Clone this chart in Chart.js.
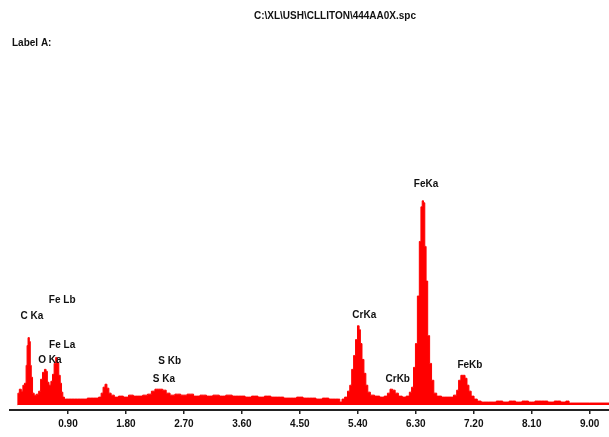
<!DOCTYPE html>
<html>
<head>
<meta charset="utf-8">
<script src="https://cdn.jsdelivr.net/npm/chart.js@4.4.1/dist/chart.umd.min.js"></script>
<style>
  html, body { margin: 0; padding: 0; background: #fff; }
  #wrap { width: 609px; height: 437px; }
</style>
</head>
<body>
<div id="wrap"><canvas id="spec"></canvas></div>
<script>
// spectrum: energy (keV) and counts (arbitrary units)
const energies = [
  0.12, 0.125, 0.13, 0.16, 0.19, 0.21, 0.24, 0.26, 0.27, 0.29, 0.31, 0.32, 0.34, 0.36, 0.39,
  0.43, 0.46, 0.49, 0.52, 0.55, 0.57, 0.59, 0.62, 0.65, 0.67, 0.70, 0.72, 0.745, 0.77,
  0.79, 0.81, 0.83, 0.86, 0.95, 1.05, 1.15, 1.25, 1.35, 1.40, 1.43, 1.46, 1.49, 1.52,
  1.55, 1.59, 1.65, 1.72, 1.80, 1.88, 1.95, 2.02, 2.10, 2.17, 2.22, 2.28, 2.34, 2.40,
  2.45, 2.52, 2.60, 2.70, 2.80, 2.90, 3.00, 3.10, 3.20, 3.30, 3.40, 3.50, 3.60, 3.70,
  3.80, 3.90, 4.00, 4.10, 4.20, 4.30, 4.40, 4.50, 4.60, 4.70, 4.80, 4.90, 5.00, 5.10,
  5.14, 5.17, 5.22, 5.26, 5.29, 5.32, 5.35, 5.38, 5.41, 5.43, 5.45, 5.48, 5.51, 5.54,
  5.57, 5.62, 5.70, 5.78, 5.84, 5.88, 5.92, 5.96, 6.00, 6.06, 6.12, 6.18, 6.22, 6.25,
  6.28, 6.31, 6.34, 6.37, 6.39, 6.41, 6.43, 6.45, 6.47, 6.50, 6.53, 6.56, 6.60, 6.65,
  6.75, 6.85, 6.92, 6.95, 6.98, 7.02, 7.05, 7.08, 7.11, 7.14, 7.18, 7.23, 7.28, 7.35,
  7.50, 7.60, 7.70, 7.80, 7.90, 8.00, 8.10, 8.20, 8.30, 8.40, 8.50, 8.60, 8.66, 8.70,
  9.30
];
const counts = [
  0, 12, 12, 16, 14, 20, 22, 40, 60, 68, 64, 40, 28, 12, 10,
  11, 14, 26, 33, 36, 34, 23, 20, 24, 31, 42, 48, 43, 30,
  22, 13, 8, 6, 6, 6, 6, 7, 7, 8, 12, 18, 21, 17,
  12, 10, 8, 9, 8, 10, 9, 9, 10, 11, 14, 16, 16, 15,
  12, 10, 11, 10, 11, 9, 10, 9, 10, 9, 10, 9, 9, 8,
  9, 8, 9, 8, 8, 7, 7, 8, 7, 7, 6, 7, 6, 6,
  3, 6, 8, 14, 20, 36, 50, 66, 80, 76, 62, 46, 32, 20,
  13, 10, 9, 8, 9, 12, 16, 15, 12, 9, 8, 9, 13, 18,
  38, 62, 110, 165, 200, 206, 204, 160, 125, 70, 42, 25, 12, 9,
  8, 8, 10, 15, 25, 30, 30, 27, 20, 14, 9, 6, 4, 3,
  3, 4, 3, 4, 3, 4, 3, 4, 4, 3, 4, 3, 4, 2,
  2
];

const tickValues = [0.9, 1.8, 2.7, 3.6, 4.5, 5.4, 6.3, 7.2, 8.1, 9.0];

// peak labels and where they sit (keV, counts)
const peakLabels = ['C Ka', 'Fe Lb', 'Fe La', 'O Ka', 'S Kb', 'S Ka', 'CrKa', 'CrKb', 'FeKa', 'FeKb'];
const labelEnergies = [0.34, 0.81, 0.81, 0.62, 2.48, 2.39, 5.50, 6.02, 6.46, 7.14];
const labelCounts = [90, 106, 60, 45, 44, 26, 91, 26, 223, 40];

const titleText = 'C:\\XL\\USH\\CLLITON\\444AA0X.spc';
const subText = 'Label A:';

const points = energies.map((e, i) => ({ x: e, y: counts[i] }));

const textPlugin = {
  id: 'specText',
  afterDraw(chart) {
    const ctx = chart.ctx;
    const xs = chart.scales.x;
    const ys = chart.scales.y;
    ctx.save();
    ctx.fillStyle = '#111';
    ctx.font = 'bold 10px "Liberation Sans", Arial, sans-serif';
    ctx.textAlign = 'center';
    ctx.textBaseline = 'middle';
    ctx.fillText(titleText, 335, 16);
    ctx.textAlign = 'left';
    ctx.fillText(subText, 12, 43);
    ctx.textAlign = 'center';
    peakLabels.forEach((t, i) => {
      ctx.fillText(t, xs.getPixelForValue(labelEnergies[i]), ys.getPixelForValue(labelCounts[i]));
    });
    ctx.restore();
  }
};

new Chart(document.getElementById('spec'), {
  type: 'line',
  data: {
    datasets: [{
      data: points,
      borderColor: '#ff0000',
      backgroundColor: '#ff0000',
      borderWidth: 1,
      pointRadius: 0,
      stepped: 'middle',
      fill: 'origin'
    }]
  },
  options: {
    responsive: true,
    maintainAspectRatio: false,
    animation: false,
    layout: { padding: { top: 60, left: 10, right: 0, bottom: 3 } },
    plugins: {
      legend: { display: false },
      tooltip: { enabled: false }
    },
    scales: {
      x: {
        type: 'linear',
        min: 0,
        max: 9.3,
        afterBuildTicks: (axis) => {
          axis.ticks = tickValues.map(v => ({ value: v }));
        },
        border: { display: true, color: '#222', width: 2 },
        grid: { drawOnChartArea: false, drawTicks: true, tickLength: 4, color: '#222', lineWidth: 1.5 },
        ticks: {
          autoSkip: false,
          maxRotation: 0,
          padding: 4,
          color: '#111',
          font: { family: '"Liberation Sans", Arial, sans-serif', size: 10, weight: 'bold' },
          callback: (v) => Number(v).toFixed(2)
        }
      },
      y: {
        display: false,
        min: -5,
        max: 348
      }
    }
  },
  plugins: [textPlugin]
});
</script>
</body>
</html>
